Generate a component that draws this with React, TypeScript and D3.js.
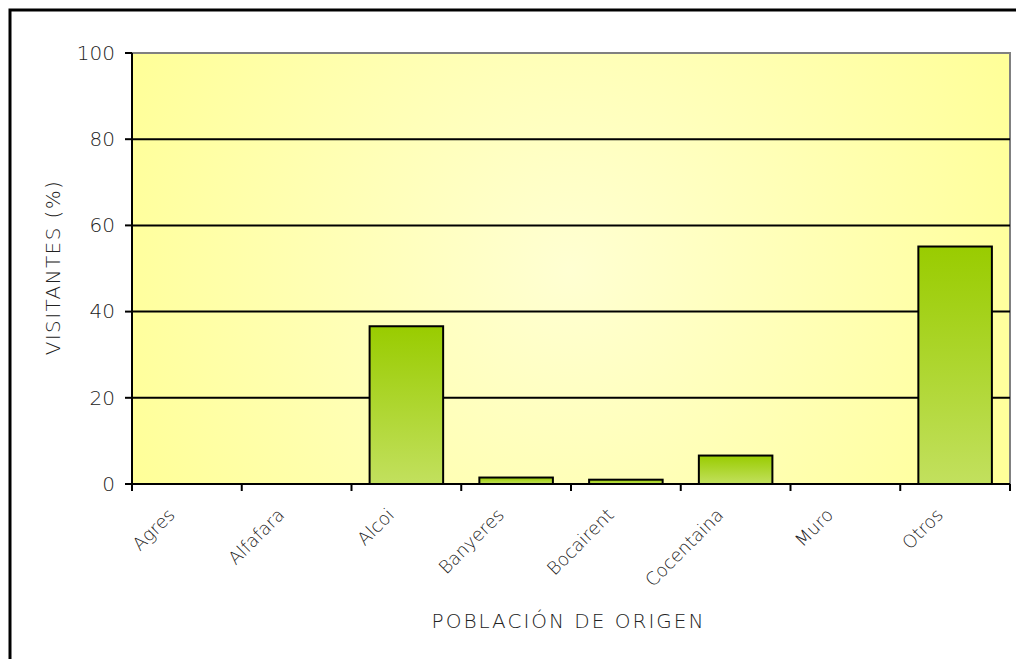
import React from "react";
import * as d3 from "d3";

const categories = ["Agres", "Alfafara", "Alcoi", "Banyeres", "Bocairent", "Cocentaina", "Muro", "Otros"];
const values = [0, 0, 36.6, 1.5, 1.0, 6.6, 0, 55.1];
const yTicks = [0, 20, 40, 60, 80, 100];

const W = 1016;
const H = 659;
const M = { left: 132, top: 53, right: 1010, bottom: 484 };
const FONT = "'DejaVu Sans', sans-serif";

export default function App() {
  const x = d3.scaleBand<string>().domain(categories).range([M.left, M.right]).paddingInner(0.33).paddingOuter(0.165);
  const xb = d3.scaleBand<string>().domain(categories).range([M.left, M.right]);
  const y = d3.scaleLinear().domain([0, 100]).range([M.bottom, M.top]);

  return (
    <svg width={W} height={H} style={{ position: "absolute", left: 0, top: 0 }} fontFamily={FONT}>
      <defs>
        <radialGradient id="bg" gradientUnits="userSpaceOnUse" cx={570} cy={270} r={480}>
          <stop offset="0" stopColor="#ffffd2" />
          <stop offset="1" stopColor="#ffff99" />
        </radialGradient>
        <linearGradient id="bar" x1="0" y1="0" x2="0" y2="1">
          <stop offset="0" stopColor="#99cc00" />
          <stop offset="1" stopColor="#c2e05e" />
        </linearGradient>
      </defs>
      <rect x={M.left} y={M.top} width={M.right - M.left} height={M.bottom - M.top} fill="url(#bg)" stroke="#808080" strokeWidth={2} />
      {yTicks.filter((t) => t > 0 && t < 100).map((t) => (
        <line key={t} x1={M.left} x2={M.right} y1={y(t)} y2={y(t)} stroke="#000" strokeWidth={2} />
      ))}
      {categories.map((c, i) => (
        <rect key={c} x={x(c)} y={y(values[i])} width={x.bandwidth()} height={y(0) - y(values[i])}
          fill="url(#bar)" stroke="#000" strokeWidth={2} style={{ display: values[i] > 0 ? undefined : "none" }} />
      ))}
      <line x1={M.left} x2={M.right} y1={M.bottom} y2={M.bottom} stroke="#000" strokeWidth={2} />
      <line x1={M.left} x2={M.left} y1={M.top} y2={M.bottom} stroke="#000" strokeWidth={2} />
      {yTicks.map((t) => (
        <g key={t}>
          <line x1={M.left - 7} x2={M.left} y1={y(t)} y2={y(t)} stroke="#000" strokeWidth={2} />
          <text x={115} y={y(t)} dy="0.34em" textAnchor="end" fontSize={20} fontWeight={200} fill="#222">{t}</text>
        </g>
      ))}
      {categories.map((c) => (
        <line key={c} x1={xb(c)} x2={xb(c)} y1={M.bottom} y2={M.bottom + 7} stroke="#000" strokeWidth={2} />
      ))}
      <line x1={M.right} x2={M.right} y1={M.bottom} y2={M.bottom + 7} stroke="#000" strokeWidth={2} />
      {categories.map((c) => {
        const cx = (xb(c) as number) + xb.bandwidth() / 2;
        return (
          <text key={c} transform={`translate(${cx - 11},516) rotate(-45)`} textAnchor="end"
            fontSize={18} fontWeight={200} fill="#222">{c}</text>
        );
      })}
      <text transform={`translate(60,267.5) rotate(-90)`} textAnchor="middle" fontSize={20} fontWeight={200} fill="#222" letterSpacing={1.4}>VISITANTES (%)</text>
      <text x={568.5} y={628} textAnchor="middle" fontSize={20} fontWeight={200} fill="#222" letterSpacing={2}>POBLACIÓN DE ORIGEN</text>
      <rect x={10} y={10} width={1030} height={680} fill="none" stroke="#000" strokeWidth={3} />
    </svg>
  );
}
